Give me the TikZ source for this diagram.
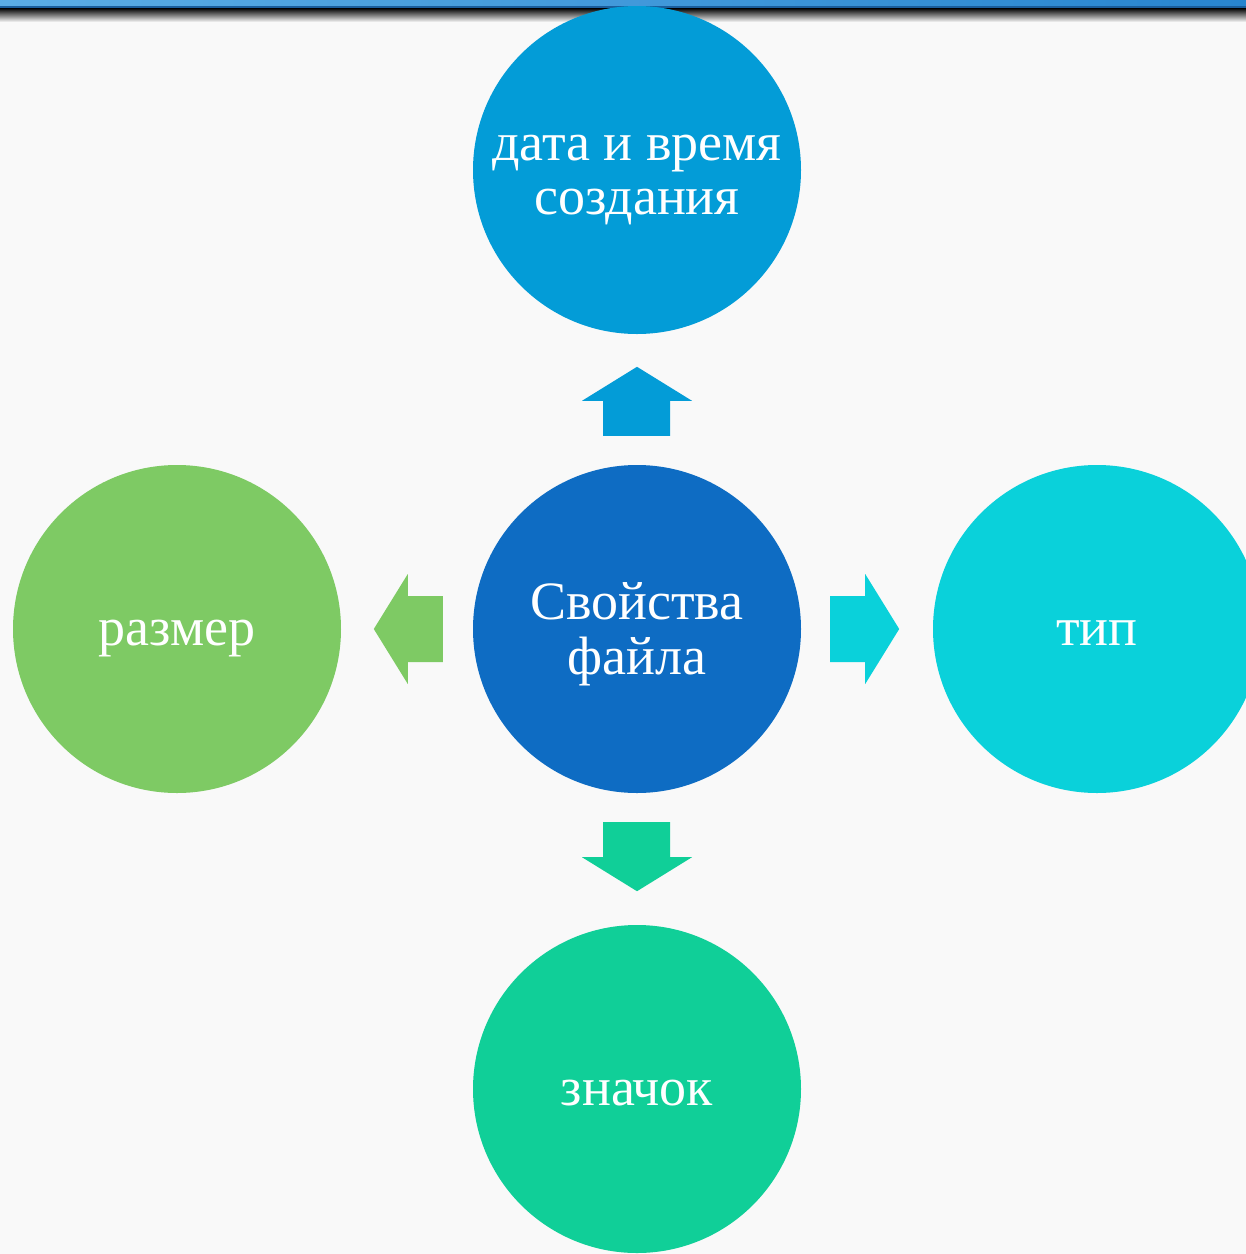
\documentclass[tikz,border=0pt]{standalone}
\usepackage{fontspec}
\setmainfont{Liberation Serif}
\usetikzlibrary{calc}
\definecolor{bgc}{HTML}{F9F9F9}
\definecolor{ctop}{HTML}{039CD7}
\definecolor{cmid}{HTML}{0E6CC3}
\definecolor{cright}{HTML}{0AD1DA}
\definecolor{cleft}{HTML}{7ECA64}
\definecolor{cbot}{HTML}{10CF98}
\definecolor{barL}{HTML}{5BADE5}
\definecolor{barR}{HTML}{2885CF}
\definecolor{barLine}{HTML}{1A5E9C}
\tikzset{
  bubble/.style={circle, minimum size=328pt, inner sep=0pt},
  bubbletext/.style={text=white, align=center, inner sep=0pt,
    font=\fontsize{54}{54}\selectfont}
}
\begin{document}
\begin{tikzpicture}[x=1pt,y=-1pt]
\useasboundingbox (0,0) rectangle (1246,1254);
\fill[bgc] (0,0) rectangle (1246,1254);
% top bar
\shade[left color=barL, right color=barR] (0,0) rectangle (1246,6);
\fill[barLine] (0,6) rectangle (1246,8);
\shade[top color=black, bottom color=bgc] (0,8) rectangle (1246,22);
% circles
\node[bubble, fill=ctop] (top) at (637,170) {};
\node[bubble, fill=cmid] (mid) at (637,629) {};
\node[bubble, fill=cleft] (left) at (177,629) {};
\node[bubble, fill=cright] (right) at (1097,629) {};
\node[bubble, fill=cbot] (bot) at (637,1089) {};
% texts
\node[bubbletext, anchor=base] (topA) at ($(top.center)+(0,-10)$) {дата и время};
\node[bubbletext, anchor=base] (topB) at ($(top.center)+(0,44)$) {создания};
\node[bubbletext, anchor=base] (midA) at ($(mid.center)+(0,-10)$) {Свойства};
\node[bubbletext, anchor=base] (midB) at ($(mid.center)+(0,45)$) {файла};
\node[bubbletext, anchor=base] (leftT) at ($(left.center)+(0,16)$) {размер};
\node[bubbletext, anchor=base] (rightT) at ($(right.center)+(0,16)$) {тип};
\node[bubbletext, anchor=base] (botT) at ($(bot.center)+(0,16)$) {значок};
% block arrows (from the centre node towards each outer node)
\fill[ctop] ($(mid.north)+(-34,-29)$) -- ++(0,-35) -- ++(-21,0)
  -- ($(mid.north)+(0,-98)$) -- ++(55,34) -- ++(-22,0) -- ++(0,35) -- cycle;
\fill[cbot] ($(mid.south)+(-34,29)$) -- ++(0,35) -- ++(-21,0)
  -- ($(mid.south)+(0,98)$) -- ++(55,-34) -- ++(-22,0) -- ++(0,-35) -- cycle;
\fill[cleft] ($(mid.west)+(-30,-33)$) -- ++(-35,0) -- ++(0,-22)
  -- ($(mid.west)+(-99,0)$) -- ++(34,55) -- ++(0,-22) -- ++(35,0) -- cycle;
\fill[cright] ($(mid.east)+(29,-33)$) -- ++(35,0) -- ++(0,-22)
  -- ($(mid.east)+(98,0)$) -- ++(-34,55) -- ++(0,-22) -- ++(-35,0) -- cycle;
\end{tikzpicture}
\end{document}
